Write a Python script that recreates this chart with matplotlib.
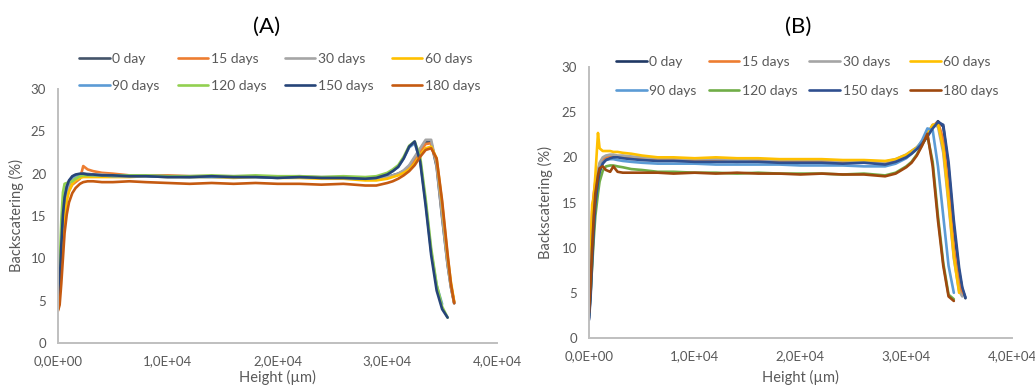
import numpy as np
import matplotlib.pyplot as plt

nan = np.nan

labels = ["0 day", "15 days", "30 days", "60 days", "90 days", "120 days", "150 days", "180 days"]
colors_a = ["#44546A", "#ED7D31", "#A5A5A5", "#FFC000", "#5B9BD5", "#92D050", "#264478", "#C55A11"]
colors_b = ["#1F3864", "#ED7D31", "#A5A5A5", "#FFC000", "#5B9BD5", "#70AD47", "#2F4F8F", "#9E480E"]

xtick_vals = [0, 10000, 20000, 30000, 40000]
xtick_labels = ["0,0E+00", "1,0E+04", "2,0E+04", "3,0E+04", "4,0E+04"]
ytick_vals = [0, 5, 10, 15, 20, 25, 30]

# panel A, height in um
xa = [0, 150, 300, 450, 600, 800, 1000, 1300, 1600, 2000, 2300, 2700, 3200, 4000, 5000, 6500,
      8000, 10000, 12000, 14000, 16000, 18000, 20000, 22000, 24000, 26000, 28000, 29000, 30000,
      30500, 31000, 31500, 32000, 32500, 33000, 33500, 34000, 34500, 35000, 35500, 35800, 36100]

a_0 = [4.0, 6.0, 10.0, 13.8, 16.2, 17.8, 18.7, 19.4, 19.7, 19.9, 20.0, 19.9, 19.9, 19.8, 19.8, 19.7,
       19.8, 19.7, 19.6, 19.7, 19.6, 19.7, 19.6, 19.6, 19.5, 19.6, 19.4, 19.4, 19.6,
       19.8, 20.0, 20.3, 20.9, 21.8, 22.9, 23.8, 23.7, 20.8, 14.8, 9.2, 6.6, 4.7]
a_15 = [4.2, 6.5, 10.5, 14.0, 16.0, 17.2, 18.0, 18.7, 19.0, 19.4, 20.9, 20.5, 20.3, 20.1, 20.0, 19.8,
        19.8, 19.8, 19.7, 19.7, 19.6, 19.7, 19.6, 19.6, 19.5, 19.5, 19.4, 19.4, 19.5,
        19.7, 19.9, 20.2, 20.7, 21.5, 22.6, 23.5, 23.6, 21.2, 15.5, 9.6, 6.8, 4.8]
a_30 = [4.5, 6.5, 10.5, 14.0, 16.3, 17.8, 18.7, 19.4, 19.7, 19.9, 20.0, 20.0, 19.9, 19.9, 19.8, 19.8,
        19.8, 19.7, 19.7, 19.7, 19.7, 19.7, 19.6, 19.7, 19.6, 19.6, 19.5, 19.5, 19.6,
        19.8, 20.0, 20.4, 21.0, 22.0, 23.0, 24.0, 24.0, 21.0, 15.0, 9.3, 6.6, 4.7]
a_60 = [5.5, 5.8, 8.5, 12.0, 14.8, 16.8, 17.9, 18.8, 19.2, 19.5, 19.6, 19.6, 19.6, 19.6, 19.6, 19.6,
        19.7, 19.6, 19.6, 19.6, 19.5, 19.6, 19.5, 19.5, 19.4, 19.4, 19.2, 19.2, 19.4,
        19.6, 19.8, 20.1, 20.5, 21.2, 22.2, 23.0, 23.2, 21.8, 16.5, 10.2, 7.2, 4.9]
a_90 = [4.0, 7.0, 12.0, 15.5, 17.3, 18.5, 19.1, 19.6, 19.8, 19.9, 19.9, 19.9, 19.8, 19.8, 19.7, 19.7,
        19.7, 19.6, 19.6, 19.6, 19.6, 19.6, 19.5, 19.6, 19.5, 19.5, 19.4, 19.5, 19.9,
        20.3, 20.8, 21.8, 23.1, 23.6, 21.6, 16.6, 10.8, 6.8, 4.6, nan, nan, nan]
a_120 = [4.0, 8.5, 14.5, 17.8, 18.8, 18.9, 19.0, 19.1, 19.4, 19.7, 19.8, 19.8, 19.8, 19.8, 19.8, 19.8,
         19.8, 19.7, 19.7, 19.8, 19.7, 19.8, 19.7, 19.7, 19.6, 19.7, 19.6, 19.7, 20.1,
         20.5, 21.0, 22.0, 23.3, 23.8, 22.0, 17.0, 11.2, 6.9, 4.3, 3.0, nan, nan]
a_150 = [4.2, 7.0, 11.5, 15.2, 17.2, 18.5, 19.2, 19.7, 19.9, 20.0, 20.0, 19.9, 19.9, 19.8, 19.8, 19.7,
         19.7, 19.6, 19.6, 19.7, 19.6, 19.6, 19.5, 19.6, 19.5, 19.5, 19.4, 19.5, 19.9,
         20.3, 20.8, 21.8, 23.2, 23.8, 21.4, 16.2, 10.4, 6.2, 4.0, 3.0, nan, nan]
a_180 = [3.8, 4.5, 7.0, 10.0, 13.0, 15.2, 16.6, 17.7, 18.3, 18.8, 19.0, 19.1, 19.1, 19.0, 19.0, 19.1,
         19.0, 18.9, 18.8, 18.9, 18.8, 18.9, 18.8, 18.8, 18.7, 18.8, 18.6, 18.6, 18.9,
         19.1, 19.4, 19.8, 20.3, 21.0, 22.0, 22.8, 23.0, 21.8, 16.8, 10.5, 7.0, 4.7]

# panel B
xb = [0, 150, 300, 450, 600, 850, 1000, 1300, 1600, 2000, 2300, 2700, 3200, 4000, 5000, 6500,
      8000, 10000, 12000, 14000, 16000, 18000, 20000, 22000, 24000, 26000, 28000, 29000, 30000,
      30500, 31000, 31500, 32000, 32500, 33000, 33500, 34000, 34500, 35000, 35300, 35600]

b_0 = [2.2, 5.0, 9.0, 12.5, 15.0, 17.5, 18.5, 19.4, 19.8, 20.0, 20.1, 20.1, 20.0, 19.9, 19.8, 19.7,
       19.7, 19.6, 19.6, 19.5, 19.6, 19.5, 19.5, 19.5, 19.4, 19.5, 19.3, 19.6, 20.1,
       20.5, 21.0, 21.6, 22.4, 23.3, 24.0, 23.4, 18.8, 12.2, 7.3, 5.4, 4.4]
b_15 = [3.0, 9.0, 14.0, 16.0, 17.3, 18.5, 19.2, 19.7, 20.0, 20.1, 20.1, 20.1, 20.0, 19.9, 19.8, 19.8,
        19.7, 19.7, 19.6, 19.6, 19.6, 19.5, 19.6, 19.5, 19.5, 19.5, 19.4, 19.6, 20.1,
        20.5, 21.0, 21.7, 22.5, 23.5, 23.9, 22.0, 16.5, 10.0, 6.2, 4.8, nan]
b_30 = [3.0, 7.5, 12.0, 14.5, 16.5, 18.5, 19.4, 20.0, 20.2, 20.3, 20.3, 20.2, 20.2, 20.1, 20.0, 19.9,
        19.9, 19.8, 19.8, 19.7, 19.8, 19.7, 19.7, 19.7, 19.6, 19.6, 19.5, 19.8, 20.3,
        20.7, 21.1, 21.7, 22.6, 23.6, 23.4, 20.5, 14.8, 8.8, 5.2, 4.6, nan]
b_60 = [3.0, 10.0, 14.8, 15.5, 18.0, 22.7, 21.0, 20.7, 20.7, 20.7, 20.6, 20.6, 20.5, 20.4, 20.2, 20.0,
        20.0, 19.9, 20.0, 19.9, 19.9, 19.8, 19.8, 19.8, 19.7, 19.7, 19.6, 19.8, 20.3,
        20.7, 21.1, 21.7, 22.6, 23.6, 23.7, 21.0, 15.2, 9.0, 5.0, nan, nan]
b_90 = [2.5, 6.0, 10.0, 13.0, 15.5, 17.8, 18.7, 19.4, 19.7, 19.8, 19.8, 19.7, 19.6, 19.5, 19.4, 19.3,
        19.3, 19.3, 19.2, 19.2, 19.2, 19.2, 19.1, 19.1, 19.1, 19.0, 19.0, 19.3, 19.9,
        20.4, 21.0, 21.9, 23.2, 23.0, 19.0, 13.5, 8.0, 5.0, nan, nan, nan]
b_120 = [2.5, 5.0, 8.0, 11.0, 13.5, 16.0, 17.3, 18.5, 19.0, 19.1, 19.1, 19.0, 18.9, 18.7, 18.6, 18.4,
         18.4, 18.3, 18.3, 18.2, 18.3, 18.2, 18.2, 18.2, 18.1, 18.2, 18.0, 18.3, 19.0,
         19.5, 20.3, 21.4, 22.4, 19.5, 13.5, 8.3, 4.8, 4.3, nan, nan, nan]
b_150 = [2.0, 4.5, 8.5, 12.0, 14.8, 17.3, 18.4, 19.3, 19.7, 19.9, 20.0, 20.0, 19.9, 19.8, 19.7, 19.6,
         19.6, 19.5, 19.5, 19.5, 19.5, 19.4, 19.4, 19.4, 19.3, 19.4, 19.2, 19.5, 20.0,
         20.4, 20.9, 21.5, 22.3, 23.2, 23.9, 23.6, 19.5, 13.0, 7.8, 5.6, 4.5]
b_180 = [2.8, 6.0, 10.0, 13.5, 16.0, 18.0, 18.8, 19.0, 18.6, 18.4, 19.0, 18.4, 18.3, 18.3, 18.3, 18.3,
         18.2, 18.3, 18.2, 18.3, 18.2, 18.2, 18.1, 18.2, 18.1, 18.1, 17.9, 18.2, 18.9,
         19.4, 20.2, 21.3, 22.6, 19.0, 13.0, 8.0, 4.6, 4.1, nan, nan, nan]

series_a = [a_0, a_15, a_30, a_60, a_90, a_120, a_150, a_180]
series_b = [b_0, b_15, b_30, b_60, b_90, b_120, b_150, b_180]

plt.rcParams['font.family'] = ['Lato', 'DejaVu Sans']
gray_txt = "#595959"
W, H = 1035, 385

fig = plt.figure(figsize=(10.35, 3.85), dpi=100)


def panel(rect, x, series, colors, title, title_xy, leg_xy, colspace, rowspace, ylab_x, xlab_y):
    ax = fig.add_axes(rect)
    handles = []
    for ys, c, lab in zip(series, colors, labels):
        h, = ax.plot(x, ys, color=c, lw=1.9, label=lab, solid_capstyle='round')
        handles.append(h)
    ax.set_xlim(0, 40000)
    ax.set_ylim(0, 30)
    ax.set_xticks(xtick_vals, xtick_labels)
    ax.set_yticks(ytick_vals)
    ax.tick_params(length=0, labelsize=9.5, labelcolor=gray_txt, pad=8.5)
    for s in ["top", "right"]:
        ax.spines[s].set_visible(False)
    for s in ["left", "bottom"]:
        ax.spines[s].set_color("#BFBFBF")
        ax.spines[s].set_linewidth(1.4)
    ax.set_ylabel("Backscatering (%)", fontsize=10.5, color=gray_txt)
    ax.set_xlabel("Height (\u00b5m)", fontsize=10.5, color=gray_txt)
    ax.yaxis.set_label_coords(ylab_x, 0.5)
    ax.xaxis.set_label_coords(0.5, xlab_y)
    order = [0, 4, 1, 5, 2, 6, 3, 7]
    leg = ax.legend([handles[i] for i in order], [labels[i] for i in order], ncol=4,
                    loc="upper left", bbox_to_anchor=leg_xy, bbox_transform=fig.transFigure,
                    frameon=False, fontsize=10, handlelength=2.2, handletextpad=0.2,
                    columnspacing=colspace, labelspacing=rowspace, borderpad=0, borderaxespad=0)
    for t in leg.get_texts():
        t.set_color(gray_txt)
    fig.text(title_xy[0], title_xy[1], title, fontsize=16, ha="center", va="center", color="black")
    return ax


panel([58 / W, 1 - 343 / H, 439 / W, 254 / H], xa, series_a, colors_a, "(A)",
      (267 / W, 1 - 27 / H), (79 / W, 1 - 53 / H), 1.3, 1.1, -0.078, -0.105)
panel([589 / W, 1 - 338 / H, 423 / W, 271 / H], xb, series_b, colors_b, "(B)",
      (798 / W, 1 - 27 / H), (616 / W, 1 - 56 / H), 0.85, 1.25, -0.085, -0.118)

fig.savefig("out.png", dpi=100)
